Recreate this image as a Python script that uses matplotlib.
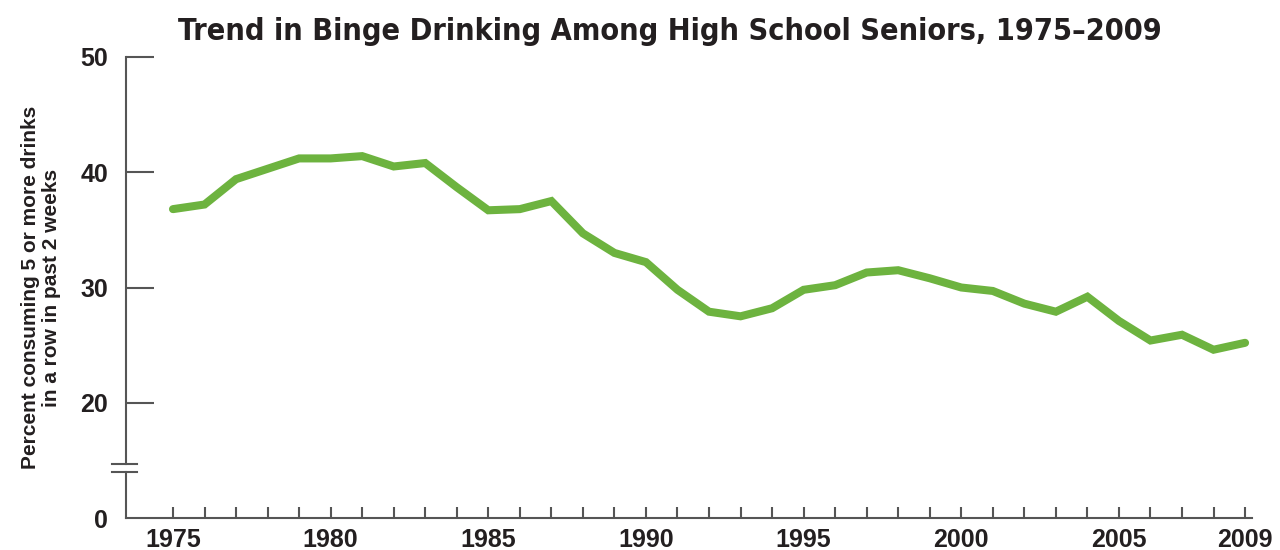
import numpy as np
import matplotlib.pyplot as plt
from matplotlib.ticker import FixedLocator

# Data
years = list(range(1975, 2010))
percent = [36.8, 37.2, 39.4, 40.3, 41.2, 41.2, 41.4, 40.5, 40.8, 38.7,
           36.7, 36.8, 37.5, 34.7, 33.0, 32.2, 29.8, 27.9, 27.5, 28.2,
           29.8, 30.2, 31.3, 31.5, 30.8, 30.0, 29.7, 28.6, 27.9, 29.2,
           27.1, 25.4, 25.9, 24.6, 25.2]
x_labels = [1975, 1980, 1985, 1990, 1995, 2000, 2005, 2009]
y_ticks = [10, 20, 30, 40, 50]
y_labels = ['0', '20', '30', '40', '50']

green = '#6db33f'
axis_col = '#555555'
text_col = '#231f20'

plt.rcParams['font.family'] = ['Liberation Sans', 'DejaVu Sans']

fig = plt.figure(figsize=(12.8, 5.5), dpi=100)
ax = fig.add_axes([126 / 1280, 32 / 550, 1126 / 1280, 461 / 550])

ax.plot(years, percent, color=green, linewidth=5.8, solid_capstyle='round',
        solid_joinstyle='miter')

ax.set_xlim(1973.51, 2009.22)
ax.set_ylim(10, 50)

# spines
for s in ['top', 'right', 'left']:
    ax.spines[s].set_visible(False)
ax.spines['bottom'].set_color(axis_col)
ax.spines['bottom'].set_linewidth(1.5)

# left axis drawn by hand with a break
ytr = ax.get_yaxis_transform()
ax.plot([0, 0], [10, 13.99], color=axis_col, lw=1.5, transform=ytr, clip_on=False)
ax.plot([0, 0], [14.68, 50], color=axis_col, lw=1.5, transform=ytr, clip_on=False)
for yb in [13.99, 14.68]:
    ax.plot([-0.0124, 0.0098], [yb, yb], color=axis_col, lw=1.5,
            transform=ytr, clip_on=False)

# x ticks
ax.set_xticks(x_labels)
ax.set_xticklabels([str(v) for v in x_labels])
ax.xaxis.set_minor_locator(FixedLocator(years))
ax.tick_params(axis='x', which='both', direction='in', length=8, width=1.5,
               color=axis_col, pad=7, labelsize=18, labelcolor=text_col)
for lab in ax.get_xticklabels():
    lab.set_fontweight('bold')

# y ticks
ax.set_yticks(y_ticks)
ax.set_yticklabels(y_labels)
ax.tick_params(axis='y', direction='in', length=20, width=1.5, color=axis_col,
               pad=13, labelsize=18, labelcolor=text_col)
for lab in ax.get_yticklabels():
    lab.set_fontweight('bold')
ax.yaxis.get_major_ticks()[0].tick1line.set_visible(False)

ax.set_ylabel('Percent consuming 5 or more drinks\nin a row in past 2 weeks',
              fontsize=15, fontweight='bold', color=text_col, labelpad=14,
              linespacing=1.1)

fig.text(670 / 1280, 1 - 31 / 550,
         'Trend in Binge Drinking Among High School Seniors, 1975\u20132009',
         ha='center', va='center', fontsize=22, fontweight='bold',
         fontstretch='condensed', color=text_col, family='DejaVu Sans')

fig.savefig('out.png', dpi=100)
